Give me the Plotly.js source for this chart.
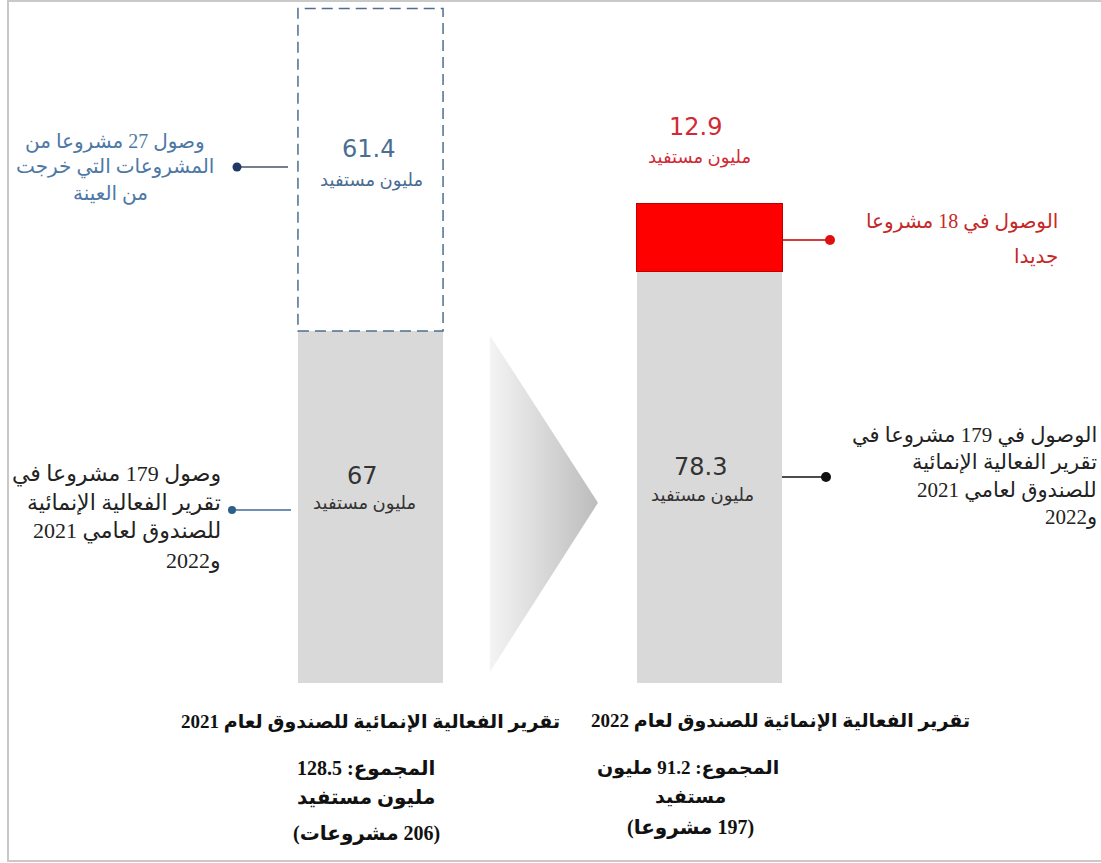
<!DOCTYPE html>
<html><head><meta charset="utf-8">
<script src="https://cdn.plot.ly/plotly-3.0.1.min.js"></script>
<style>
body{margin:0;background:#fff;}
#wrap{position:relative;width:1101px;height:863px;}
#frame{position:absolute;left:7px;top:0;width:1100px;height:862px;border-left:2px solid #c9c9c9;border-top:2px solid #c9c9c9;border-bottom:2px solid #c9c9c9;box-sizing:border-box;pointer-events:none;}
</style>
</head><body>
<div id="wrap"><div id="chart"></div><div id="frame"></div></div>
<script>
// ---- data ----
const reportYears = ['2021', '2022'];
const retained = [67, 78.3];          // million beneficiaries, 179 common projects
const changed = [61.4, 12.9];         // 2021: 27 projects that left the sample; 2022: 18 new projects
const totals = [128.5, 91.2];
const projectCounts = [206, 197];
const unitLabel = 'مليون مستفيد';

// decorative arrow between the bars (data-space outline)
const arrowX = [0.352, 0.671, 0.352, 0.352];
const arrowY = [66.2, 34.3, 2.1, 66.2];

// ---- helpers ----
const L = 201, W = 678, H = 683;
const px = x => (x - L) / W;
const py = y => (H - y) / H;
const RLE = '\u202B', PDF = '\u202C';
const rtl = s => RLE + s + PDF;
const AR = 'Liberation Serif, DejaVu Sans, serif';
const NUM = 'DejaVu Sans, Verdana, sans-serif';
function note(text, x, y, size, color, opts){
  return Object.assign({
    text: text, xref: 'paper', yref: 'paper', x: px(x), y: py(y),
    xanchor: 'center', yanchor: 'middle', showarrow: false,
    font: {family: AR, size: size, color: color}
  }, opts || {});
}
function numNote(text, x, y, size, color){
  return note(text, x, y, size, color, {font: {family: NUM, size: size, color: color}});
}
const bw = 0.428;

const traces = [
  {type: 'scatter', x: arrowX, y: arrowY, mode: 'lines', fill: 'toself',
   line: {width: 0, color: 'rgba(0,0,0,0)'},
   fillgradient: {type: 'horizontal', colorscale: [[0, '#f4f4f4'], [1, '#bcbcbc']]},
   hoverinfo: 'skip', showlegend: false},
  {type: 'bar', x: [0, 1], y: retained, width: bw, marker: {color: '#d9d9d9', line: {width: 0}},
   hoverinfo: 'skip', showlegend: false},
  {type: 'bar', x: [0, 1], y: changed, width: bw,
   marker: {color: ['rgba(255,255,255,0)', '#ff0000'], line: {width: [0, 1], color: '#c00000'}},
   hoverinfo: 'skip', showlegend: false}
];

const blue = '#4e78a5', red = '#d22a35', dark = '#222222', redTxt = '#c62828';
const annotations = [
  // inside / above bars
  numNote(String(changed[0]), 368, 149, 24, '#4a6d93'),
  note(rtl(unitLabel), 371, 180, 18, '#4a6d93'),
  numNote(String(retained[0]), 362, 476, 24, '#333'),
  note(rtl(unitLabel), 364, 503, 18, '#333'),
  numNote(String(changed[1]), 695, 127, 24, red),
  note(rtl(unitLabel), 699, 158, 18, red),
  numNote(String(retained[1]), 700, 467, 24, '#333'),
  note(rtl(unitLabel), 702, 495, 18, '#333'),
  // left callout 1 (blue)
  note(rtl('وصول 27 مشروعا من'), 115, 141, 20, blue),
  note(rtl('المشروعات التي خرجت'), 115, 167, 20, blue),
  note(rtl('من العينة'), 110, 193, 20, blue),
  // left callout 2
  note(rtl('وصول 179 مشروعا في'), 223, 474, 22, dark, {xanchor: 'right'}),
  note(rtl('تقرير الفعالية الإنمائية'), 223, 502, 22, dark, {xanchor: 'right'}),
  note(rtl('للصندوق لعامي 2021'), 223, 531, 22, dark, {xanchor: 'right'}),
  note(rtl('و2022'), 223, 560, 22, dark, {xanchor: 'right'}),
  // right callout red
  note(rtl('الوصول في 18 مشروعا'), 1060, 222, 20, redTxt, {xanchor: 'right'}),
  note(rtl('جديدا'), 1060, 256, 20, redTxt, {xanchor: 'right'}),
  // right callout black
  note(rtl('الوصول في 179 مشروعا في'), 1099, 435, 21, dark, {xanchor: 'right'}),
  note(rtl('تقرير الفعالية الإنمائية'), 1099, 462, 21, dark, {xanchor: 'right'}),
  note(rtl('للصندوق لعامي 2021'), 1099, 490, 21, dark, {xanchor: 'right'}),
  note(rtl('و2022'), 1099, 517, 21, dark, {xanchor: 'right'}),
  // bottom captions
  note('<b>' + rtl('تقرير الفعالية الإنمائية للصندوق لعام ' + reportYears[0]) + '</b>', 370, 722, 19, '#111'),
  note('<b>' + rtl('المجموع: ' + totals[0]) + '</b>', 366, 768, 20, '#111'),
  note('<b>' + rtl(unitLabel) + '</b>', 366, 797, 20, '#111'),
  note('<b>' + rtl('(' + projectCounts[0] + ' مشروعات)') + '</b>', 366, 833, 20, '#111'),
  note('<b>' + rtl('تقرير الفعالية الإنمائية للصندوق لعام ' + reportYears[1]) + '</b>', 780, 721, 19, '#111'),
  note('<b>' + rtl('المجموع: ' + totals[1] + ' مليون') + '</b>', 688, 768, 19, '#111'),
  note('<b>' + rtl('مستفيد') + '</b>', 690, 796, 19, '#111'),
  note('<b>' + rtl('(' + projectCounts[1] + ' مشروعا)') + '</b>', 690, 827, 20, '#111')
];

function hline(x0, x1, y, color){
  return {type: 'line', xref: 'paper', yref: 'paper', x0: px(x0), x1: px(x1), y0: py(y), y1: py(y),
          line: {color: color, width: 1.3}};
}
function dot(x, y, r, color){
  return {type: 'circle', xref: 'paper', yref: 'paper', xsizemode: 'pixel', ysizemode: 'pixel',
          xanchor: px(x), yanchor: py(y), x0: -r, x1: r, y0: -r, y1: r,
          fillcolor: color, line: {color: color, width: 0}};
}
const shapes = [
  {type: 'rect', xref: 'x', yref: 'y', x0: 0 - bw / 2, x1: 0 + bw / 2,
   y0: retained[0], y1: retained[0] + changed[0],
   line: {color: '#4f6d8f', width: 1.5, dash: '11px,6px'}, fillcolor: 'rgba(0,0,0,0)'},
  hline(241, 288, 167, '#44546a'), dot(237, 167, 4.5, '#1f3864'),
  hline(236, 291, 510, '#3d6d96'), dot(232, 510, 4, '#2e5f8a'),
  hline(782, 829, 240, '#c00000'), dot(830, 240, 5, '#e01010'),
  hline(782, 825, 477, '#111'), dot(826, 477, 5, '#111')
];

const layout = {
  width: 1101, height: 863,
  margin: {l: 201, r: 222, t: 0, b: 180},
  paper_bgcolor: '#fff', plot_bgcolor: '#fff',
  barmode: 'stack', showlegend: false,
  xaxis: {range: [-0.5, 1.5], visible: false, fixedrange: true},
  yaxis: {range: [0, 130], visible: false, fixedrange: true},
  annotations: annotations, shapes: shapes
};
Plotly.newPlot('chart', traces, layout, {displayModeBar: false, staticPlot: true});
</script>
</body></html>
